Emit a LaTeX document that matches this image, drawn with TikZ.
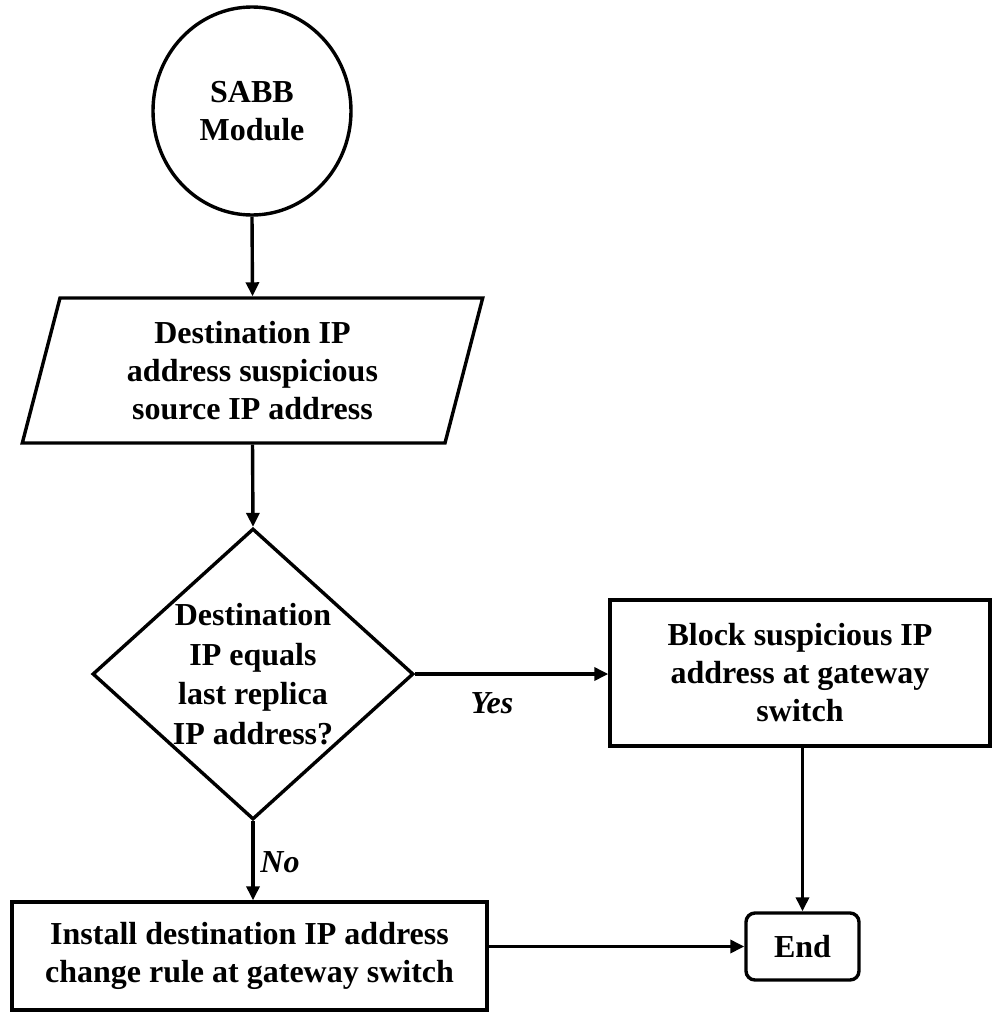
\documentclass[tikz,border=0pt]{standalone}
\usepackage{fontspec}
\setmainfont{Liberation Serif}
\usetikzlibrary{shapes.geometric,arrows.meta}

\tikzset{
  base/.style={draw=black, line width=3.4pt, inner sep=0pt, align=center,
    font=\fontsize{32}{38}\selectfont\bfseries},
  startcircle/.style={base, ellipse, minimum width=198pt, minimum height=208pt},
  iobox/.style={base, trapezium, trapezium left angle=76, trapezium right angle=104,
    trapezium stretches=true, minimum width=461pt, minimum height=145pt},
  decision/.style={base, diamond, minimum width=321pt, minimum height=291pt},
  dtext/.style={inner sep=0pt, align=center, font=\fontsize{32}{39.5}\selectfont\bfseries},
  process/.style={base, rectangle},
  terminal/.style={base, rectangle, rounded corners=9pt, minimum width=113pt, minimum height=67pt},
  flow/.style={line width=3.4pt, -{Triangle[length=14pt,width=13pt]}},
  edgelabel/.style={font=\fontsize{32}{36}\selectfont\bfseries\itshape}
}

\begin{document}
\begin{tikzpicture}[x=1pt, y=-1pt]
  \useasboundingbox (0,0) rectangle (992,1012);

  % flowchart nodes
  \node[startcircle] (sabb) at (252,111) {SABB\\Module};
  \node[iobox] (input) at (252.5,370.5) {Destination IP\\address suspicious\\source IP address};
  \node[decision, label={[dtext]center:{Destination\\IP equals\\last replica\\IP address?}}] (check) at (253,674) {};
  \node[process, minimum width=380pt, minimum height=146pt] (block) at (800,673)
    {Block suspicious IP\\address at gateway\\switch};
  \node[process, minimum width=475pt, minimum height=108pt] (install) at (249.5,956)
    {Install destination IP address\\change rule at gateway switch};
  \node[terminal] (end) at (802.5,946.5) {End};

  % connectors
  \draw[flow] (sabb.south) -- (input.north);
  \draw[flow] (input.south) -- (check.north);
  \draw[flow] (check.east) -- (check.east -| block.west);
  \draw[flow] (block.south -| end.north) -- (end.north);
  \draw[flow] (check.south) -- (check.south |- install.north);
  \draw[flow] (end.west -| install.east) -- (end.west);

  % branch labels
  \node[edgelabel] (yes) at (492,703) {Yes};
  \node[edgelabel] (no) at (280,862) {No};
\end{tikzpicture}
\end{document}
